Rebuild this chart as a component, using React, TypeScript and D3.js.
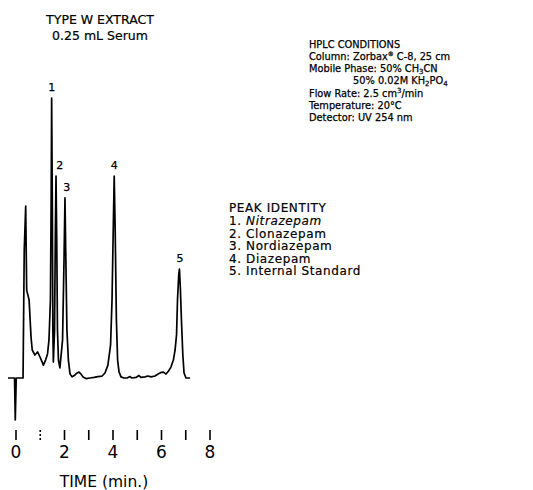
import React from 'react'
import { scaleLinear, line } from 'd3'

const width = 533
const height = 490

// chromatogram trace: time (min) and detector response (peak 1 = 100)
const traceTime = [
  -0.33, -0.06, -0.03, 0.01, 0.29, 0.34, 0.40, 0.44, 0.54, 0.62, 0.67, 0.78, 0.89, 0.99,
  1.13, 1.22, 1.30, 1.36, 1.42, 1.45, 1.47, 1.50, 1.52, 1.54, 1.59, 1.62, 1.65, 1.68,
  1.71, 1.75, 1.81, 1.92, 1.98, 2.02, 2.05, 2.10, 2.16, 2.23, 2.31, 2.43, 2.52, 2.60,
  2.68, 2.76, 2.89, 3.05, 3.22, 3.38, 3.55, 3.67, 3.79, 3.90, 3.96, 4.01, 4.05, 4.09,
  4.14, 4.19, 4.25, 4.33, 4.45, 4.58, 4.70, 4.78, 4.95, 5.07, 5.15, 5.32, 5.44, 5.57,
  5.73, 5.86, 5.98, 6.08, 6.19, 6.29, 6.39, 6.49, 6.56, 6.62, 6.66, 6.71, 6.74, 6.78,
  6.83, 6.88, 6.93, 7.01, 7.18,
]
const traceResponse = [
  0, 0, -15, 0, 0, 45.7, 61.4, 31.4, 27.9, 14.6, 10, 8.2, 9.3, 7.5,
  4.6, 6.4, 8.6, 13.6, 27.9, 63.6, 100, 60, 17.1, 5.7, 17.1, 49.3, 72.1, 49.3,
  17.1, 6.4, 3.6, 13.6, 42.1, 64.3, 45.7, 17.1, 6.4, 1.4, 0.4, 1.1, 1.8, 2.1,
  1.4, 0.4, -0.2, 0, 0.2, 0.5, 0.7, 1.8, 4.6, 11.8, 27.9, 52.9, 72.1, 52.9,
  20.7, 6.4, 2.1, 0.4, 0, 0, 0.5, 0, 0.2, 0.9, 0.2, 0.4, 0.7, 0.4,
  0.7, 1.4, 2.0, 2.1, 1.4, 2.5, 3.9, 6.4, 10, 15.4, 27.9, 36.8, 38.9, 31.4,
  18.9, 8.2, 1.8, 0, 0,
]

const peakNumbers = ['1', '2', '3', '4', '5']
const peakTimes = [1.47, 1.72, 2.05, 4.05, 6.76]
const peakHeights = [100, 72.1, 64.3, 72.1, 38.9]
const peakNames = ['Nitrazepam', 'Clonazepam', 'Nordiazepam', 'Diazepam', 'Internal Standard']

const tickValues = [0, 1, 2, 3, 4, 5, 6, 7, 8]
const tickLabels = [0, 2, 4, 6, 8]

const font = '"DejaVu Sans", sans-serif'

function App() {
  const x = scaleLinear().domain([0, 8]).range([16, 210])
  const y = scaleLinear().domain([0, 100]).range([378, 98])

  const points: [number, number][] = traceTime.map((t, i) => [t, traceResponse[i]])
  const path = line<[number, number]>()
    .x(d => x(d[0]))
    .y(d => y(d[1]))(points)

  const sub = (s: string) => (
    <tspan fontSize={7} dy={2}>{s}</tspan>
  )
  const back = (s: string) => <tspan dy={-2}>{s}</tspan>

  return (
    <svg width={width} height={height} style={{ position: 'absolute', left: 0, top: 0, background: '#fff' }} fontFamily={font}>
      <g stroke="#000" strokeWidth={0.2}>
        <text x={100} y={24} textAnchor="middle" fontSize={12.5}>TYPE W EXTRACT</text>
        <text x={100} y={40} textAnchor="middle" fontSize={12.5}>0.25 mL Serum</text>
      </g>

      <path d={path || ''} fill="none" stroke="#000" strokeWidth={1.7} strokeLinejoin="round" />

      {peakNumbers.map((n, i) => (
        <text key={n} x={x(peakTimes[i]) + (i === 1 ? 2 : i === 2 ? 1 : 0)} y={y(peakHeights[i]) - 7}
          textAnchor="middle" fontSize={11} stroke="#000" strokeWidth={0.25}>{n}</text>
      ))}

      {tickValues.map(t => (
        <line key={t} x1={x(t)} x2={x(t)} y1={430} y2={440} stroke="#000" strokeWidth={1.6}
          strokeDasharray={t === 1 ? '2,2' : undefined} />
      ))}
      {tickLabels.map(t => (
        <text key={t} x={x(t)} y={458} textAnchor="middle" fontSize={17}>{t}</text>
      ))}
      <text x={104} y={487} textAnchor="middle" fontSize={15.5}>TIME (min.)</text>

      <g fontSize={9.8} stroke="#000" strokeWidth={0.25}>
        <text x={309} y={48}>HPLC CONDITIONS</text>
        <text x={309} y={60}>Column: Zorbax<tspan fontSize={6} dy={-4}>®</tspan><tspan dy={4}> C-8, 25 cm</tspan></text>
        <text x={309} y={72}>Mobile Phase: 50% CH{sub('3')}{back('CN')}</text>
        <text x={353} y={84}>50% 0.02M KH{sub('2')}{back('PO')}{sub('4')}</text>
        <text x={309} y={97}>Flow Rate: 2.5 cm<tspan fontSize={7} dy={-4}>3</tspan><tspan dy={4}>/min</tspan></text>
        <text x={309} y={109}>Temperature: 20°C</text>
        <text x={309} y={121}>Detector: UV 254 nm</text>
      </g>

      <g fontSize={12} stroke="#000" strokeWidth={0.2} letterSpacing={0.6}>
        <text x={229} y={212}>PEAK IDENTITY</text>
        {peakNames.map((name, i) => (
          <text key={name} x={229} y={225 + i * 12.5}>
            {peakNumbers[i]}. <tspan fontStyle={i === 0 ? 'italic' : 'normal'}>{name}</tspan>
          </text>
        ))}
      </g>
    </svg>
  )
}

export default App
